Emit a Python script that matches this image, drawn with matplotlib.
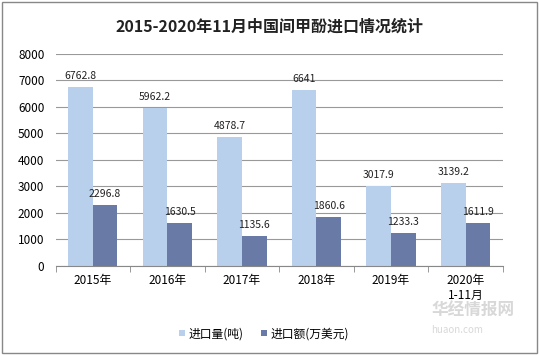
import matplotlib.pyplot as plt
import numpy as np

plt.rcParams['font.family'] = ['Noto Sans CJK SC', 'DejaVu Sans']

categories = ['2015年', '2016年', '2017年', '2018年', '2019年', '2020年\n1-11月']
volume = [6762.8, 5962.2, 4878.7, 6641, 3017.9, 3139.2]
amount = [2296.8, 1630.5, 1135.6, 1860.6, 1233.3, 1611.9]
volume_labels = ['6762.8', '5962.2', '4878.7', '6641', '3017.9', '3139.2']
amount_labels = ['2296.8', '1630.5', '1135.6', '1860.6', '1233.3', '1611.9']

fig = plt.figure(figsize=(5.39, 3.55), dpi=100)
ax = fig.add_axes([0.103, 0.251, 0.83, 0.597])

x = np.arange(len(categories))
w = 0.33
b1 = ax.bar(x - w / 2, volume, w, color='#B9D0EC', label='进口量(吨)', zorder=2)
b2 = ax.bar(x + w / 2, amount, w, color='#6A7AA6', label='进口额(万美元)', zorder=2)

# 数据标签
for rect, t in zip(b1, volume_labels):
    ax.text(rect.get_x() + rect.get_width() / 2, rect.get_height() + 220, t,
            ha='center', va='bottom', fontsize=7.5, color='#222222')
for rect, t in zip(b2, amount_labels):
    ax.text(rect.get_x() + rect.get_width() / 2, rect.get_height() + 220, t,
            ha='center', va='bottom', fontsize=7.5, color='#222222')

ax.set_xlim(-0.5, len(categories) - 0.5)
ax.set_ylim(0, 8000)
ax.set_yticks(range(0, 8001, 1000))
ax.tick_params(axis='y', length=0, labelsize=8.5, pad=8)
ax.set_xticks(x)
ax.set_xticklabels(categories, fontsize=8.5)
ax.tick_params(axis='x', length=0, pad=6)
ax.set_xticks(np.arange(-0.5, len(categories)), minor=True)
ax.tick_params(axis='x', which='minor', length=4, color='#888888')
ax.grid(axis='y', color='#999999', linewidth=0.8, zorder=0)
for s in ['top', 'right', 'left']:
    ax.spines[s].set_visible(False)
ax.spines['bottom'].set_color('#888888')

fig.text(0.5, 0.925, '2015-2020年11月中国间甲酚进口情况统计', ha='center', va='center',
         fontsize=11.5, fontweight='bold', color='#222222')

fig.legend(loc='center', bbox_to_anchor=(0.49, 0.06), ncol=2, frameon=False,
           fontsize=8.5, handlelength=0.5, handleheight=0.5, handletextpad=0.3,
           columnspacing=1.5)

# 水印
fig.text(0.80, 0.125, '华经情报网', fontsize=12, color='#D8D8D8', ha='left', va='center',
         fontweight='bold')
fig.text(0.80, 0.07, 'huaon.com', fontsize=7, color='#D8D8D8', ha='left', va='center')

fig.patches.append(plt.Rectangle((0.004, 0.006), 0.992, 0.988, transform=fig.transFigure,
                                 fill=False, edgecolor='#888888', linewidth=1))

fig.savefig('out.png', dpi=100)
